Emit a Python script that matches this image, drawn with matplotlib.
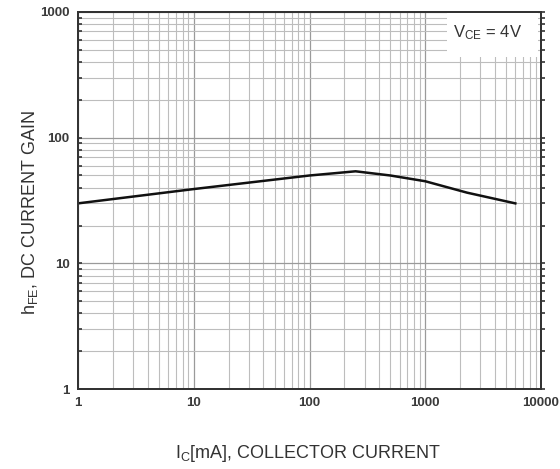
import numpy as np
import matplotlib
matplotlib.use("Agg")
import matplotlib.pyplot as plt
from matplotlib.patches import Rectangle
from matplotlib.ticker import LogLocator, NullFormatter, FixedLocator, FixedFormatter

plt.rcParams['font.family'] = ['Liberation Sans', 'DejaVu Sans']
plt.rcParams['mathtext.default'] = 'regular'

# data
ic_ma = [1, 10, 100, 160, 250, 500, 1000, 2300, 6000]
hfe = [30, 39, 50, 52, 54, 50, 45, 36.5, 30]

x_ticks = [1, 10, 100, 1000, 10000]
x_labels = ['1', '10', '100', '1000', '10000']
y_ticks = [1, 10, 100, 1000]
y_labels = ['1', '10', '100', '1000']

fig = plt.figure(figsize=(5.6, 4.69), dpi=100)
ax = fig.add_axes([78/560, 1 - 389/469, (541-78)/560, (389-12)/469])

ax.set_xscale('log')
ax.set_yscale('log')
ax.set_xlim(1, 10000)
ax.set_ylim(1, 1000)

# grid on every minor + major decade line
ax.set_axisbelow(True)
ax.grid(True, which='major', color='#9a9a9a', lw=0.9)
ax.grid(True, which='minor', color='#bdbdbd', lw=0.8)

# white box behind the condition label
ax.add_patch(Rectangle((0.797, 0.881), 0.197, 0.119, transform=ax.transAxes,
                       facecolor='white', edgecolor='none', zorder=1))
ax.text(0.885, 0.945, 'V$_{CE}$ = 4V', transform=ax.transAxes, ha='center', va='center',
        fontsize=12, color='#333333', zorder=2)

ax.plot(ic_ma, hfe, color='#111111', lw=1.8, zorder=3)

ax.xaxis.set_major_locator(FixedLocator(x_ticks))
ax.xaxis.set_major_formatter(FixedFormatter(x_labels))
ax.xaxis.set_minor_locator(LogLocator(base=10, subs=np.arange(2, 10)))
ax.xaxis.set_minor_formatter(NullFormatter())
ax.yaxis.set_major_locator(FixedLocator(y_ticks))
ax.yaxis.set_major_formatter(FixedFormatter(y_labels))
ax.yaxis.set_minor_locator(LogLocator(base=10, subs=np.arange(2, 10)))
ax.yaxis.set_minor_formatter(NullFormatter())

ax.tick_params(axis='x', which='both', length=0, pad=6, labelsize=9.5, labelcolor='#3a3a3a')
ax.tick_params(axis='y', which='both', direction='in', length=3, width=1.2, color='#333333',
               pad=6, labelsize=9.5, labelcolor='#3a3a3a')
for lbl in ax.get_xticklabels() + ax.get_yticklabels():
    lbl.set_fontweight('bold')

# right side ticks point outward
ax2 = ax.twinx()
ax2.set_yscale('log')
ax2.set_ylim(1, 1000)
ax2.yaxis.set_major_locator(FixedLocator(y_ticks))
ax2.yaxis.set_minor_locator(LogLocator(base=10, subs=np.arange(2, 10)))
ax2.yaxis.set_major_formatter(NullFormatter())
ax2.yaxis.set_minor_formatter(NullFormatter())
ax2.tick_params(axis='y', which='both', direction='out', length=3, width=1.2, color='#333333')

for a in (ax, ax2):
    for s in a.spines.values():
        s.set_color('#333333')
        s.set_linewidth(1.4)

fig.text(308/560, 1 - 458/469, 'I$_{C}$[mA], COLLECTOR CURRENT', fontsize=13,
         color='#333333', ha='center', va='baseline')
fig.text(35/560, 1 - 212/469, 'h$_{FE}$, DC CURRENT GAIN', fontsize=13, color='#333333',
         rotation=90, rotation_mode='anchor', ha='center', va='baseline')

fig.savefig('out.png', dpi=100)
